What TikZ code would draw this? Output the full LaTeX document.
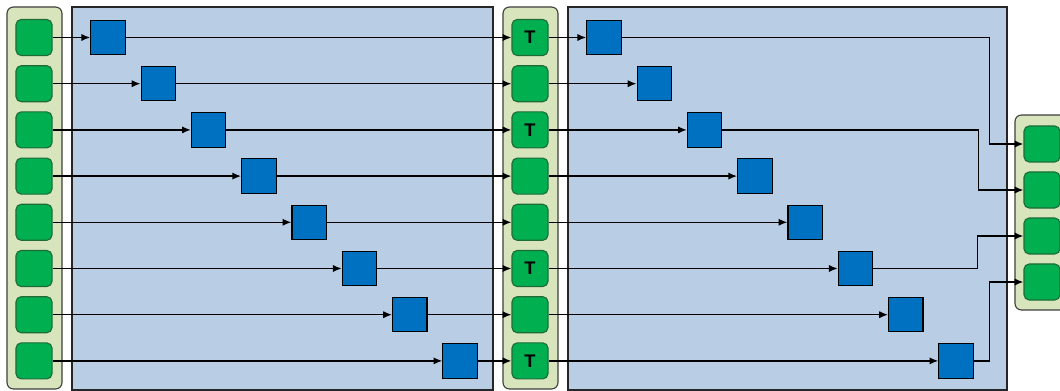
\documentclass[tikz,border=0pt]{standalone}
\usepackage{fontspec}
\setmainfont{Liberation Sans}
\usetikzlibrary{arrows.meta}
\definecolor{coltan}{HTML}{D8E4BC}
\definecolor{coledge}{HTML}{3F3F3F}
\definecolor{cellgreen}{HTML}{00B050}
\definecolor{celledge}{HTML}{1E6B38}
\definecolor{unitblue}{HTML}{0070C0}
\definecolor{stagefill}{HTML}{B9CDE5}
\definecolor{stageedge}{HTML}{262626}

\begin{document}
\begin{tikzpicture}[
        x=0.25mm, y=-0.25mm,
        line width=1pt,
        font=\fontsize{13}{13}\selectfont\bfseries
    ]
    \tikzset{
        column/.style = {draw=coledge, fill=coltan, rounded corners=1.6mm, line width=0.8pt},
        stage/.style = {draw=stageedge, fill=stagefill, line width=1pt},
        cell/.style = {rectangle, rounded corners=1.3mm, draw=celledge, fill=cellgreen, line width=0.8pt, minimum size=9mm, inner sep=0pt},
        unit/.style = {rectangle, draw=black, fill=unitblue, line width=0.8pt, minimum size=8.6mm, inner sep=0pt},
        flow/.style = {-{Latex[length=2.2mm,width=1.8mm]}},
    }
    \useasboundingbox (0,0) rectangle (1060,391);
    % background columns and stages
    \draw[column] (7,7) rectangle (62,389);
    \draw[stage] (72,7) rectangle (493,390);
    \draw[column] (503,7) rectangle (558,389);
    \draw[stage] (568,7) rectangle (1007,390);
    \draw[column] (1015,115) rectangle (1080,310);
    % eight lanes
    \foreach \i/\t in {1/T,2/,3/T,4/,5/,6/T,7/,8/T} {
        \node[cell] (in\i) at (34,{37.5+46.2*(\i-1)}) {};
        \node[unit] (a\i) at ({108+50.3*(\i-1)},{37.5+46.2*(\i-1)}) {};
        \node[cell] (mid\i) at (530,{37.5+46.2*(\i-1)}) {\t};
        \node[unit] (b\i) at ({604+50.3*(\i-1)},{37.5+46.2*(\i-1)}) {};
        \draw[flow] (in\i.east) -- (a\i.west);
        \draw[flow] (a\i.east) -- (mid\i.west);
        \draw[flow] (mid\i.east) -- (b\i.west);
    }
    \foreach \j in {1,...,4} {
        \node[cell] (out\j) at (1042,{144+46*(\j-1)}) {};
    }
    \draw[flow] (b1.east) -| ([xshift=-8.5mm]out1.west) -- (out1.west);
    \draw[flow] (b3.east) -| ([xshift=-11.3mm]out2.west) -- (out2.west);
    \draw[flow] (b6.east) -| ([xshift=-11.5mm]out3.west) -- (out3.west);
    \draw[flow] (b8.east) -| ([xshift=-8.5mm]out4.west) -- (out4.west);
\end{tikzpicture}
\end{document}
